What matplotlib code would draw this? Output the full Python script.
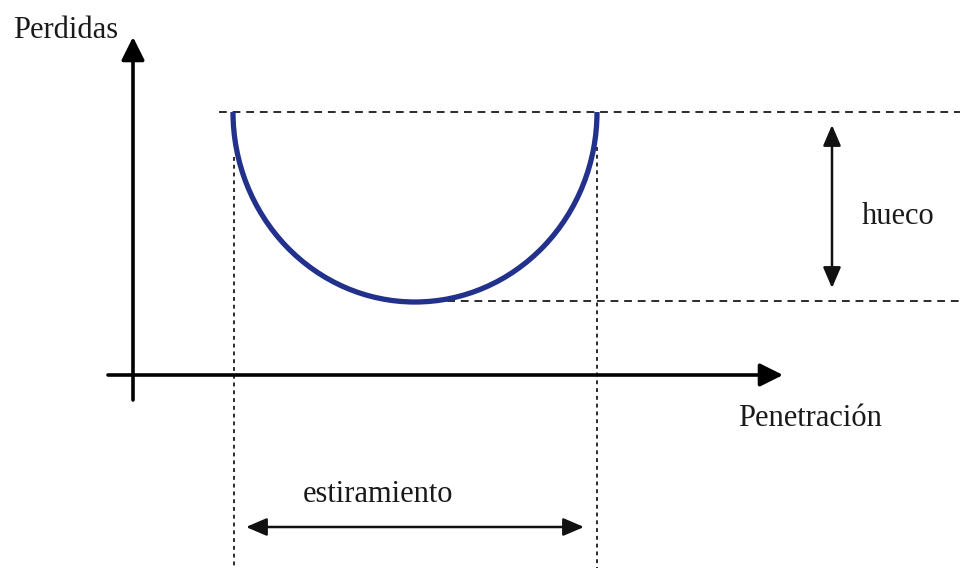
import matplotlib
matplotlib.use("Agg")
import matplotlib.pyplot as plt
from matplotlib.patches import Arc

# Diagram geometry (pixel-like units, y grows downward)
axis_origin = (133, 375)
y_axis_span = [400, 37]          # bottom, arrow tip
x_axis_span = [108, 783]         # left, arrow tip

curve_center = (415, 112)
curve_width = 364
curve_height = 380

top_level = 112                  # upper dashed reference line
bottom_level = 301               # lower dashed reference line
top_line_x = [219, 960]
bottom_line_x = [420, 960]

left_guide_x = 234
right_guide_x = 597
left_guide_y = [157, 568]
right_guide_y = [147, 568]

gap_arrow_x = 832
gap_arrow_y = [125, 288]

stretch_arrow_y = 527
stretch_arrow_x = [246, 584]

labels = {
    "Perdidas": (66, 31),
    "Penetración": (810, 419),
    "hueco": (898, 216),
    "estiramiento": (378, 494),
}

curve_color = "#22318c"
guide_color = "#2b2b2b"
text_color = "#1a1a1a"

plt.rcParams["font.family"] = ["Liberation Serif", "DejaVu Serif"]

fig = plt.figure(figsize=(9.6, 5.68), dpi=100)
ax = fig.add_axes([0, 0, 1, 1])
ax.set_xlim(0, 960)
ax.set_ylim(568, 0)
ax.axis("off")

# reference lines
ax.plot(top_line_x, [top_level, top_level], color=guide_color, lw=1.4,
        linestyle=(0, (4, 3)))
ax.plot(bottom_line_x, [bottom_level, bottom_level], color=guide_color, lw=1.4,
        linestyle=(0, (4, 3)))
ax.plot([left_guide_x, left_guide_x], left_guide_y, color=guide_color, lw=1.4,
        linestyle=(0, (2, 2)))
ax.plot([right_guide_x, right_guide_x], right_guide_y, color=guide_color, lw=1.4,
        linestyle=(0, (2, 2)))

# loss curve
ax.add_patch(Arc(curve_center, curve_width, curve_height, theta1=0, theta2=180,
                 color=curve_color, lw=3.8, zorder=3))

# coordinate axes
axis_arrow = dict(arrowstyle="-|>,head_length=0.7,head_width=0.35",
                  color="black", lw=2.6, mutation_scale=20,
                  shrinkA=0, shrinkB=0)
ax.annotate("", xy=(axis_origin[0], y_axis_span[1]),
            xytext=(axis_origin[0], y_axis_span[0]), arrowprops=axis_arrow)
ax.annotate("", xy=(x_axis_span[1], axis_origin[1]),
            xytext=(x_axis_span[0], axis_origin[1]), arrowprops=axis_arrow)

# dimension arrows
dim_arrow = dict(arrowstyle="<|-|>,head_length=0.7,head_width=0.3",
                 color="#111111", lw=1.8, mutation_scale=18,
                 shrinkA=0, shrinkB=0)
ax.annotate("", xy=(gap_arrow_x, gap_arrow_y[0]),
            xytext=(gap_arrow_x, gap_arrow_y[1]), arrowprops=dim_arrow)
ax.annotate("", xy=(stretch_arrow_x[0], stretch_arrow_y),
            xytext=(stretch_arrow_x[1], stretch_arrow_y), arrowprops=dim_arrow)

for text, (x, y) in labels.items():
    ax.text(x, y, text, ha="center", va="center", fontsize=22,
            color=text_color)

fig.savefig("out.png", dpi=100)
